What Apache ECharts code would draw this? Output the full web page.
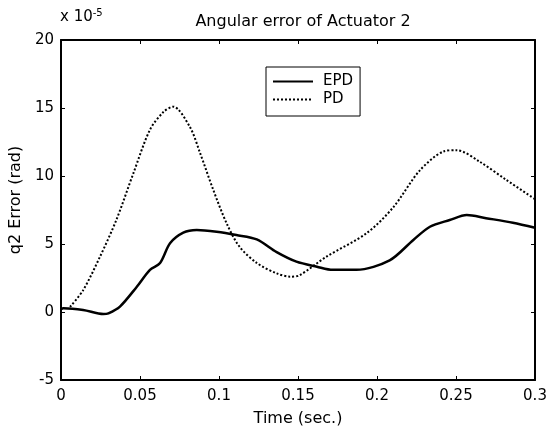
<!DOCTYPE html>
<html>
<head>
<meta charset="utf-8">
<script src="https://cdn.jsdelivr.net/npm/echarts@6/dist/echarts.min.js"></script>
<style>
  html, body { margin: 0; padding: 0; background: #fff; }
  #chart { width: 559px; height: 434px; }
</style>
</head>
<body>
<div id="chart"></div>
<script>
// values, error in units of 1e-5 rad
const epdTime = [0, 0.0015, 0.014, 0.0268, 0.030, 0.0373, 0.048, 0.0563, 0.0627, 0.069, 0.0774, 0.0859, 0.0985, 0.111, 0.1239, 0.1365, 0.149, 0.162, 0.172, 0.187, 0.208, 0.223, 0.2335, 0.246, 0.2568, 0.269, 0.286, 0.3];
const epdErr = [0.2, 0.27, 0.15, -0.15, -0.1, 0.4, 1.86, 3.1, 3.6, 5.05, 5.83, 6.03, 5.9, 5.66, 5.34, 4.4, 3.7, 3.33, 3.1, 3.1, 3.8, 5.3, 6.27, 6.76, 7.13, 6.9, 6.57, 6.2];
const pdTime = [0.0057, 0.014, 0.0247, 0.035, 0.0458, 0.0563, 0.0648, 0.071, 0.0816, 0.088, 0.0964, 0.1049, 0.113, 0.124, 0.1365, 0.145, 0.151, 0.168, 0.1935, 0.2103, 0.227, 0.242, 0.2504, 0.265, 0.282, 0.3];
const pdErr = [0.37, 1.6, 4.07, 6.76, 10.2, 13.4, 14.7, 15.1, 13.6, 11.7, 8.97, 6.5, 4.8, 3.6, 2.84, 2.6, 2.7, 4.07, 5.8, 7.7, 10.4, 11.8, 11.9, 11.05, 9.7, 8.3];
const xTicks = [0, 0.05, 0.1, 0.15, 0.2, 0.25, 0.3];
const yTicks = [-5, 0, 5, 10, 15, 20];

const pair = (t, v) => t.map((x, i) => [x, v[i]]);
const font = "'DejaVu Sans', sans-serif";

const chart = echarts.init(document.getElementById("chart"));

const xBase = {
  type: "value",
  min: xTicks[0],
  max: xTicks[xTicks.length - 1],
  interval: 0.05,
  axisLine: { onZero: false, lineStyle: { color: "#000", width: 2 } },
  axisTick: { inside: true, length: 4, lineStyle: { color: "#000", width: 1 } },
  splitLine: { show: false }
};
const yBase = {
  type: "value",
  min: yTicks[0],
  max: yTicks[yTicks.length - 1],
  interval: 5,
  axisLine: { onZero: false, lineStyle: { color: "#000", width: 2 } },
  axisTick: { inside: true, length: 4, lineStyle: { color: "#000", width: 1 } },
  splitLine: { show: false }
};

chart.setOption({
  animation: false,
  backgroundColor: "#fff",
  title: {
    text: "Angular error of Actuator 2",
    left: 298,
    textAlign: "center",
    top: 9,
    textStyle: { fontFamily: font, fontSize: 16, fontWeight: "normal", color: "#000" }
  },
  grid: { left: 61, top: 40, right: 24, bottom: 54 },
  legend: {
    left: 266,
    top: 67,
    orient: "vertical",
    itemWidth: 40,
    itemHeight: 16,
    itemGap: 3,
    padding: [7, 7, 9, 6],
    borderColor: "#000",
    borderWidth: 1,
    borderRadius: 0,
    itemStyle: { opacity: 0 },
    textStyle: { fontFamily: font, fontSize: 15, color: "#000", padding: [0, 0, 0, 5] },
    data: ["EPD", "PD"]
  },
  xAxis: [
    Object.assign({}, xBase, {
      position: "bottom",
      name: "Time (sec.)",
      nameLocation: "middle",
      nameGap: 31,
      nameTextStyle: { fontFamily: font, fontSize: 16, color: "#000" },
      axisLabel: {
        margin: 9,
        fontFamily: font,
        fontSize: 15,
        color: "#000",
        formatter: v => String(+v.toFixed(2))
      }
    }),
    Object.assign({}, xBase, { position: "top", axisLabel: { show: false } })
  ],
  yAxis: [
    Object.assign({}, yBase, {
      position: "left",
      name: "q2 Error (rad)",
      nameLocation: "middle",
      nameGap: 28,
      nameTextStyle: { fontFamily: font, fontSize: 16, color: "#000", padding: [0, 0, 0, 20] },
      axisLabel: { margin: 7, fontFamily: font, fontSize: 15, color: "#000" }
    }),
    Object.assign({}, yBase, { position: "right", axisLabel: { show: false } })
  ],
  graphic: [
    {
      type: "text",
      left: 60,
      top: 8,
      style: {
        text: "x 10{sup|-5}",
        fontFamily: font,
        fontSize: 15,
        fill: "#000",
        rich: { sup: { fontSize: 10, verticalAlign: "top", padding: [0, 0, 8, 0], fontFamily: font } }
      }
    }
  ],
  series: [
    {
      name: "EPD",
      type: "line",
      data: pair(epdTime, epdErr),
      smooth: 0.3,
      symbol: "none",
      itemStyle: { color: "#000" },
      lineStyle: { color: "#000", width: 2.5 }
    },
    {
      name: "PD",
      type: "line",
      data: pair(pdTime, pdErr),
      smooth: 0.3,
      symbol: "none",
      itemStyle: { color: "#000" },
      lineStyle: { color: "#000", width: 2, type: [2, 2] }
    }
  ]
});
</script>
</body>
</html>
